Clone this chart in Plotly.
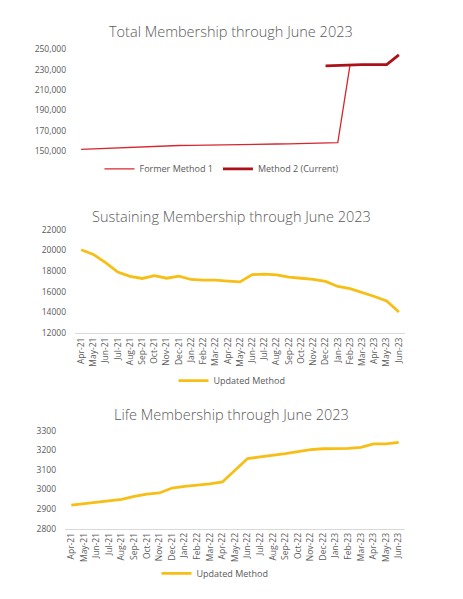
import plotly.graph_objects as go

months = ["Apr-21","May-21","Jun-21","Jul-21","Aug-21","Sep-21","Oct-21","Nov-21","Dec-21",
          "Jan-22","Feb-22","Mar-22","Apr-22","May-22","Jun-22","Jul-22","Aug-22","Sep-22",
          "Oct-22","Nov-22","Dec-22","Jan-23","Feb-23","Mar-23","Apr-23","May-23","Jun-23"]

former_months = months[:23]
former_values = [151500,152000,152500,153000,153500,154500,155000,155200,155400,
                 155500,155600,155700,155800,156000,156500,156700,156900,157100,
                 157300,157500,157800,158300,234500]

method2_months = months[20:]
method2_values = [233800,234400,234800,235000,235100,235100,244600]

sustaining = [20050,19600,18800,17900,17480,17280,17550,17300,17500,17180,17120,17110,
              17020,16950,17650,17700,17620,17400,17300,17200,16990,16510,16300,15950,
              15540,15100,14050]

life = [2920,2927,2937,2944,2949,2964,2976,2982,3007,3016,3022,3028,3038,3098,3158,
        3166,3173,3183,3193,3203,3208,3208,3210,3215,3233,3233,3241]

W, H = 463, 599
def py(p):
    return 1 - p / H
def px(p):
    return p / W

FONT = "Open Sans"
GREY = "#595959"

fig = go.Figure()
fig.add_trace(go.Scatter(x=former_months, y=former_values, mode="lines", name="Former Method 1",
                         line=dict(color="#D8262E", width=1.3), xaxis="x", yaxis="y", legend="legend"))
fig.add_trace(go.Scatter(x=method2_months, y=method2_values, mode="lines", name="Method 2 (Current)",
                         line=dict(color="#AC1018", width=2.8), xaxis="x", yaxis="y", legend="legend"))
fig.add_trace(go.Scatter(x=months, y=sustaining, mode="lines", name="Updated Method",
                         line=dict(color="#F7BE16", width=2.8), xaxis="x2", yaxis="y2", legend="legend2"))
fig.add_trace(go.Scatter(x=months, y=life, mode="lines", name="Updated Method",
                         line=dict(color="#F7BE16", width=2.8), xaxis="x3", yaxis="y3", legend="legend3"))

tickfont = dict(family=FONT, size=8.5, color=GREY)
xcommon = dict(type="category", categoryorder="array", categoryarray=months,
               range=[-0.5, 26.5], tickangle=-90, tickfont=tickfont, showgrid=False,
               zeroline=False, ticks="", fixedrange=True)
ycommon = dict(tickfont=tickfont, showgrid=False, zeroline=False, showline=False,
               ticklabelstandoff=8, fixedrange=True)

fig.update_layout(
    width=W, height=H, margin=dict(l=0, r=0, t=0, b=0),
    paper_bgcolor="white", plot_bgcolor="white",
    xaxis=dict(xcommon, domain=[px(75), px(405)], anchor="y", showticklabels=False, showline=False),
    yaxis=dict(ycommon, domain=[py(147.7), py(44.3)], range=[150000, 250000], tick0=150000,
               dtick=20000, tickformat=",", anchor="x"),
    xaxis2=dict(xcommon, domain=[px(75), px(405)], anchor="y2", showline=True,
                linecolor="#D9D9D9", linewidth=1),
    yaxis2=dict(ycommon, domain=[py(333.3), py(227.7)], range=[12000, 22000], tick0=12000,
                dtick=2000, tickformat="d", anchor="x2"),
    xaxis3=dict(xcommon, domain=[px(65), px(405)], anchor="y3", showline=True,
                linecolor="#D9D9D9", linewidth=1),
    yaxis3=dict(ycommon, domain=[py(532.3), py(432.7)], range=[2800, 3300], tick0=2800,
                dtick=100, tickformat="d", anchor="x3"),
    legend=dict(orientation="h", x=px(222), xanchor="center", y=py(166), yanchor="middle",
                font=dict(family=FONT, size=9, color=GREY), itemwidth=30, bgcolor="rgba(0,0,0,0)"),
    legend2=dict(orientation="h", x=px(232), xanchor="center", y=py(381.7), yanchor="middle",
                 font=dict(family=FONT, size=9, color=GREY), itemwidth=30, bgcolor="rgba(0,0,0,0)"),
    legend3=dict(orientation="h", x=px(215), xanchor="center", y=py(578), yanchor="middle",
                 font=dict(family=FONT, size=9, color=GREY), itemwidth=30, bgcolor="rgba(0,0,0,0)"),
    showlegend=True,
)

titles = [("Total Membership through June 2023", 231, 26),
          ("Sustaining Membership through June 2023", 232, 214),
          ("Life Membership through June 2023", 232, 415.7)]
for text, cx, cy in titles:
    fig.add_annotation(text=text, x=px(cx), y=py(cy), xref="paper", yref="paper",
                       xanchor="center", yanchor="middle", showarrow=False,
                       font=dict(family=FONT, size=14.5, color=GREY, weight=300))

fig.write_html("out.html", config={"displayModeBar": False},
               post_script="document.body.style.margin='0';")
